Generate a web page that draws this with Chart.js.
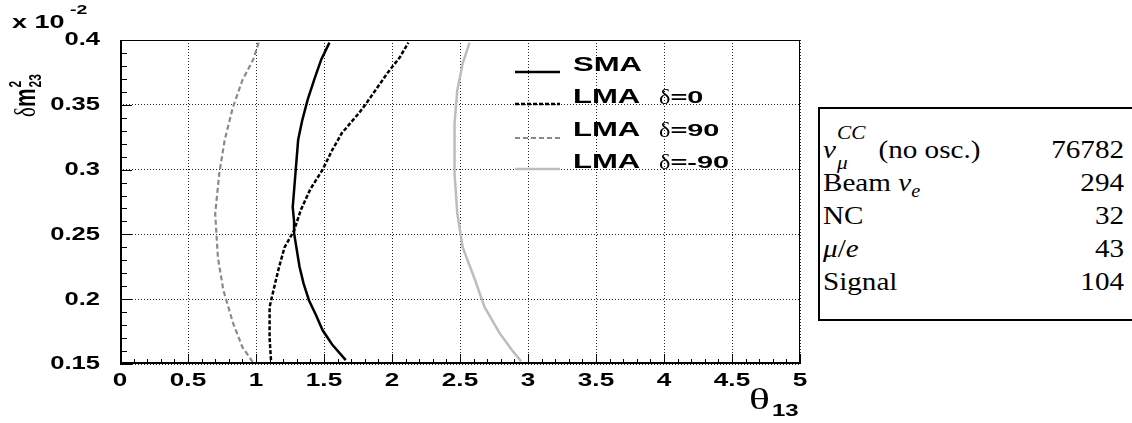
<!DOCTYPE html>
<html>
<head>
<meta charset="utf-8">
<script src="https://cdn.jsdelivr.net/npm/chart.js@4.4.0/dist/chart.umd.min.js"></script>
<style>
  html, body { margin: 0; padding: 0; background: #fff; }
  body { width: 1132px; height: 423px; position: relative; overflow: hidden; }
  #plot { position: absolute; left: 0; top: 0; }
  #counts {
    position: absolute; left: 818px; top: 107px; width: 330px; height: 214px;
    border: 2px solid #000; box-sizing: border-box;
    font-family: "Liberation Serif", serif; font-size: 26px; color: #000;
  }
  .lab, .v { position: absolute; height: 34px; line-height: 34px; white-space: nowrap; }
  .lab { left: 3px; transform: scaleX(1.12); transform-origin: left center; }
  .v { right: 22px; transform: scaleX(1.12); transform-origin: right center; }
  .ss { display: inline-block; position: relative; width: 38px; height: 10px; }
  .ss i { position: absolute; left: 1px; font-size: 19px; line-height: 19px; }
  .ss .up { top: -25px; }
  .ss .dn { top: 5px; }
</style>
</head>
<body>
<canvas id="plot" width="810" height="423"></canvas>
<div id="counts"></div>
<script>
// contours : theta13 (x) vs delta m^2_23 (y, x 10^-2)
const smaDm    = [0.398, 0.385, 0.370, 0.354, 0.338, 0.323, 0.310, 0.297, 0.284, 0.271, 0.260, 0.251, 0.238, 0.225, 0.212, 0.199, 0.188, 0.176, 0.165, 0.153];
const smaTheta = [1.54, 1.48, 1.43, 1.38, 1.34, 1.31, 1.30, 1.29, 1.28, 1.27, 1.28, 1.28, 1.30, 1.32, 1.35, 1.39, 1.44, 1.49, 1.56, 1.66];

const lma0Dm    = [0.153, 0.170, 0.185, 0.194, 0.212, 0.225, 0.240, 0.253, 0.269, 0.285, 0.300, 0.315, 0.328, 0.344, 0.351, 0.363, 0.375, 0.387, 0.398];
const lma0Theta = [1.11, 1.10, 1.10, 1.10, 1.14, 1.17, 1.21, 1.28, 1.33, 1.40, 1.49, 1.56, 1.63, 1.76, 1.81, 1.89, 1.97, 2.06, 2.12];

const lma90Dm    = [0.398, 0.385, 0.369, 0.348, 0.323, 0.297, 0.266, 0.232, 0.207, 0.182, 0.163, 0.151];
const lma90Theta = [1.02, 0.98, 0.90, 0.83, 0.77, 0.73, 0.70, 0.72, 0.76, 0.83, 0.90, 0.98];

const lmaM90Dm    = [0.398, 0.382, 0.361, 0.336, 0.297, 0.266, 0.240, 0.215, 0.194, 0.174, 0.161, 0.152];
const lmaM90Theta = [2.57, 2.52, 2.48, 2.46, 2.46, 2.48, 2.52, 2.61, 2.68, 2.79, 2.88, 2.95];

const legendNames  = ["SMA", "LMA", "LMA", "LMA"];
const legendDeltas = ["", "δ=0", "δ=90", "δ=-90"];

const xTickLabels = ["0", "0.5", "1", "1.5", "2", "2.5", "3", "3.5", "4", "4.5", "5"];
const yTickLabels = ["0.15", "0.2", "0.25", "0.3", "0.35", "0.4"];

const tableLabels = [
  '<i>ν</i><span class="ss"><i class="up">CC</i><i class="dn">μ</i></span>(no osc.)',
  'Beam <i>ν<sub style="font-size:18px">e</sub></i>',
  'NC',
  '<i>μ</i>/<i>e</i>',
  'Signal'
];
const tableValues = [76782, 294, 32, 43, 104];

// tableau de droite
const counts = document.getElementById("counts");
tableLabels.forEach((lab, i) => {
  const top = (24 + i * 33) + "px";
  const l = document.createElement("span");
  l.className = "lab";
  l.style.top = top;
  l.innerHTML = lab;
  const v = document.createElement("span");
  v.className = "v";
  v.style.top = top;
  v.textContent = tableValues[i];
  counts.appendChild(l);
  counts.appendChild(v);
});

function pts(xs, ys) {
  return xs.map((x, i) => ({ x: x, y: ys[i] }));
}

// texte étiré horizontalement (style ROOT)
function stretchText(ctx, str, x, y, font, sx, align) {
  ctx.save();
  ctx.font = font;
  const w = ctx.measureText(str).width * sx;
  let x0 = x;
  if (align === "right") x0 = x - w;
  else if (align === "center") x0 = x - w / 2;
  ctx.translate(x0, y);
  ctx.scale(sx, 1);
  ctx.textAlign = "left";
  ctx.textBaseline = "middle";
  ctx.fillStyle = "#000";
  ctx.fillText(str, 0, 0);
  ctx.restore();
  return w;
}

const SANS = '"Liberation Sans", Arial, sans-serif';
const SERIF = '"Liberation Serif", serif';

const decorations = {
  id: "decorations",
  afterDraw(chart) {
    const ctx = chart.ctx;
    const a = chart.chartArea;
    const xs = chart.scales.x, ys = chart.scales.y;

    // cadre
    ctx.save();
    ctx.strokeStyle = "#000";
    ctx.lineWidth = 1;
    ctx.strokeRect(a.left + 0.5, a.top + 0.5, a.right - a.left - 1, a.bottom - a.top - 1);
    ctx.lineWidth = 2;
    ctx.beginPath();
    ctx.moveTo(a.left + 1, a.top);
    ctx.lineTo(a.left + 1, a.bottom - 1);
    ctx.lineTo(a.right, a.bottom - 1);
    ctx.stroke();

    // petites graduations
    ctx.lineWidth = 1;
    ctx.beginPath();
    for (let i = 0; i <= 50; i++) {
      const px = Math.round(xs.getPixelForValue(i / 10)) + 0.5;
      const len = i % 5 === 0 ? 10 : 5;
      ctx.moveTo(px, a.bottom);
      ctx.lineTo(px, a.bottom - len);
    }
    for (let i = 15; i <= 40; i++) {
      const py = Math.round(ys.getPixelForValue(i / 100)) + 0.5;
      const len = i % 5 === 0 ? 12 : 7;
      ctx.moveTo(a.left, py);
      ctx.lineTo(a.left + len, py);
    }
    ctx.stroke();
    ctx.restore();

    // étiquettes des axes
    xTickLabels.forEach(t => {
      stretchText(ctx, t, xs.getPixelForValue(parseFloat(t)), 381, "bold 18px " + SANS, 1.45, "center");
    });
    yTickLabels.forEach(t => {
      stretchText(ctx, t, 100, ys.getPixelForValue(parseFloat(t)) + 0.5, "bold 18px " + SANS, 1.42, "right");
    });

    // x 10^-2
    stretchText(ctx, "x 10", 12, 23, "bold 18px " + SANS, 1.5, "left");
    stretchText(ctx, "-2", 70, 10, "bold 13px " + SANS, 1.5, "left");

    // theta13
    stretchText(ctx, "θ", 749, 401, "30px " + SERIF, 1.45, "left");
    stretchText(ctx, "13", 772, 412, "bold 16px " + SANS, 1.5, "left");

    // delta m^2_23 (vertical)
    ctx.save();
    ctx.translate(35, 117);
    ctx.rotate(-Math.PI / 2);
    ctx.scale(1, 1.4);
    ctx.fillStyle = "#000";
    ctx.textBaseline = "alphabetic";
    ctx.font = "21px " + SERIF;
    ctx.fillText("δ", 0, 0);
    let off = ctx.measureText("δ").width;
    ctx.font = "bold 21px " + SANS;
    ctx.fillText("m", off, 0);
    off += ctx.measureText("m").width;
    ctx.font = "bold 12px " + SANS;
    ctx.fillText("2", off + 1, -10);
    ctx.fillText("23", off + 1, 4);
    ctx.restore();

    // légende
    const lineY = [72, 104, 138, 169];
    const textY = [65, 97, 130, 162];
    chart.data.datasets.forEach((ds, i) => {
      ctx.save();
      ctx.strokeStyle = ds.borderColor;
      ctx.lineWidth = ds.borderWidth;
      ctx.setLineDash(ds.borderDash || []);
      ctx.beginPath();
      ctx.moveTo(515, lineY[i]);
      ctx.lineTo(560, lineY[i]);
      ctx.stroke();
      ctx.restore();
      stretchText(ctx, legendNames[i], 573, textY[i], "bold 21px " + SANS, 1.48, "left");
      const d = legendDeltas[i];
      if (d) {
        const w = stretchText(ctx, d[0], 659, textY[i] + 1, "21px " + SERIF, 1.15, "left");
        stretchText(ctx, d.slice(1), 659 + w, textY[i] + 1, "bold 17px " + SANS, 1.7, "left");
      }
    });
  }
};

const ctx = document.getElementById("plot").getContext("2d");
new Chart(ctx, {
  type: "scatter",
  data: {
    datasets: [
      { label: "SMA", data: pts(smaTheta, smaDm), borderColor: "#000", borderWidth: 2.5 },
      { label: "LMA δ=0", data: pts(lma0Theta, lma0Dm), borderColor: "#000", borderWidth: 2.5, borderDash: [4, 2] },
      { label: "LMA δ=90", data: pts(lma90Theta, lma90Dm), borderColor: "#8a8a8a", borderWidth: 2.2, borderDash: [5, 3] },
      { label: "LMA δ=-90", data: pts(lmaM90Theta, lmaM90Dm), borderColor: "#bdbdbd", borderWidth: 2.5 }
    ].map(ds => Object.assign(ds, { showLine: true, pointRadius: 0, fill: false, tension: 0 }))
  },
  options: {
    responsive: false,
    animation: false,
    layout: { padding: { left: 120, top: 40, right: 10, bottom: 59 } },
    plugins: { legend: { display: false }, tooltip: { enabled: false } },
    scales: {
      x: {
        type: "linear", min: 0, max: 5,
        ticks: { display: false, stepSize: 0.5 },
        grid: { color: "#222", lineWidth: 1, drawTicks: false },
        border: { display: false, dash: [1, 2] }
      },
      y: {
        type: "linear", min: 0.15, max: 0.4,
        ticks: { display: false, stepSize: 0.05 },
        grid: { color: "#222", lineWidth: 1, drawTicks: false },
        border: { display: false, dash: [1, 2] }
      }
    }
  },
  plugins: [decorations]
});
</script>
</body>
</html>
